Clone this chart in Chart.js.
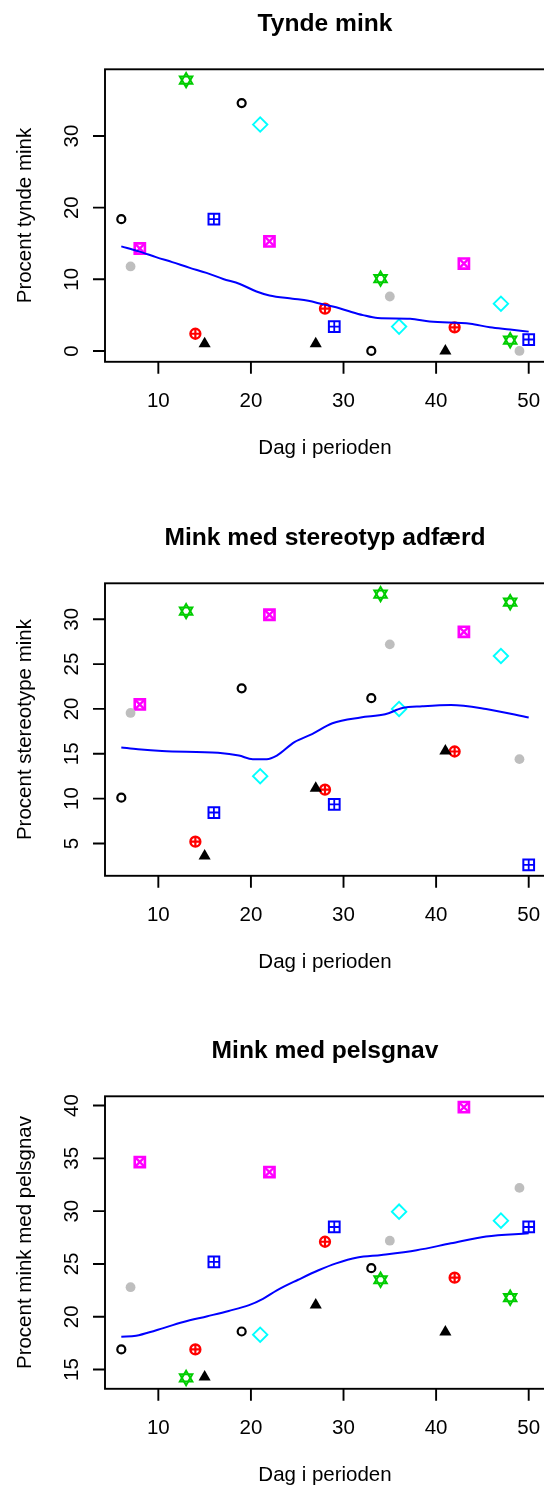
<!DOCTYPE html>
<html>
<head>
<meta charset="utf-8">
<script src="https://cdn.jsdelivr.net/npm/chart.js@4.4.1/dist/chart.umd.min.js"></script>
<style>
  html, body { margin: 0; padding: 0; background: #fff; width: 544px; height: 1485px; overflow: hidden; }
  canvas { position: absolute; left: 0; }
</style>
</head>
<body>
<canvas id="panelThin" width="560" height="514" style="top:0px"></canvas>
<canvas id="panelStereo" width="560" height="514" style="top:514px"></canvas>
<canvas id="panelFur" width="560" height="514" style="top:1027.3px"></canvas>
<script>
// Day of the period for each of the eight groups (three visits per group)
const groupDays = [
  [6, 19, 33],   // black open circle
  [7, 35, 49],   // grey dot
  [15, 27, 41],  // black triangle
  [14, 28, 42],  // red circle-plus
  [13, 34, 48],  // green star
  [8, 22, 43],   // magenta square-cross
  [16, 29, 50],  // blue square-plus
  [21, 36, 47]   // cyan diamond
];

// Percent thin mink per group and visit
const thinPct = [
  [18.4, 34.6, 0],
  [11.8, 7.6, 0],
  [1.0, 1.0, 0],
  [2.4, 5.9, 3.3],
  [37.8, 10.1, 1.5],
  [14.3, 15.3, 12.2],
  [18.4, 3.4, 1.6],
  [31.6, 3.4, 6.6]
];

// Percent mink with stereotypic behaviour
const stereoPct = [
  [10.1, 22.3, 21.2],
  [19.55, 27.2, 14.4],
  [3.6, 11.15, 15.3],
  [5.2, 11.0, 15.25],
  [30.9, 32.8, 31.9],
  [20.5, 30.5, 28.6],
  [8.45, 9.35, 2.6],
  [12.5, 20.0, 25.9]
];

// Percent mink with fur chewing
const furPct = [
  [16.9, 18.6, 24.6],
  [22.8, 27.2, 32.2],
  [14.3, 21.1, 18.55],
  [16.9, 27.1, 23.7],
  [14.2, 23.5, 21.8],
  [34.65, 33.7, 39.85],
  [25.2, 28.5, 28.5],
  [18.3, 29.95, 29.1]
];

// Smoothed trend curves
const thinTrendX = [6, 7.9, 9.75, 11.5, 13.4, 15.2, 17, 18.8, 20.6, 22, 24.5, 26.2, 27.8, 29.2, 30.7, 32.1, 33.7, 37.2, 39.3, 43.7, 45.8, 48, 50];
const thinTrendY = [14.6, 13.9, 13.1, 12.4, 11.6, 10.9, 10.05, 9.35, 8.3, 7.75, 7.3, 7.0, 6.5, 6.1, 5.5, 5.0, 4.6, 4.5, 4.1, 3.8, 3.3, 3.0, 2.7];
const stereoTrendX = [6, 7.8, 10.4, 16.45, 18.7, 20.2, 21.7, 22.8, 24.7, 26.6, 28.8, 31.85, 34.5, 36.35, 38.5, 41.6, 45.4, 50];
const stereoTrendY = [15.7, 15.5, 15.3, 15.1, 14.8, 14.4, 14.4, 14.8, 16.3, 17.2, 18.4, 19.05, 19.4, 20.1, 20.3, 20.45, 20.0, 19.05];
const furTrendX = [6, 7.6, 9.7, 12.7, 15.3, 17.6, 19.8, 21.3, 22.8, 25.1, 27.3, 29.2, 31.5, 34.1, 37.9, 41.6, 45.4, 50];
const furTrendY = [18.1, 18.2, 18.7, 19.5, 20.05, 20.55, 21.1, 21.7, 22.5, 23.5, 24.4, 25.05, 25.6, 25.85, 26.3, 26.95, 27.6, 27.9];

// Tick labels
const dayTicks = [10, 20, 30, 40, 50];
const thinTicks = [0, 10, 20, 30];
const stereoTicks = [5, 10, 15, 20, 25, 30];
const furTicks = [15, 20, 25, 30, 35, 40];

const FONT = '"Liberation Sans", Arial, sans-serif';
const NONE = 'rgba(0,0,0,0)';

// Marker layers per group: each entry is one Chart.js point style drawn at the group's points
const markerLayers = [
  [{ pointStyle: 'circle', radius: 4, borderWidth: 2.2, borderColor: '#000000', backgroundColor: NONE }],
  [{ pointStyle: 'circle', radius: 4.9, borderWidth: 0, borderColor: '#bebebe', backgroundColor: '#bebebe' }],
  [{ pointStyle: 'triangle', radius: 7, borderWidth: 0, borderColor: '#000000', backgroundColor: '#000000' }],
  [{ pointStyle: 'circle', radius: 4.9, borderWidth: 2.5, borderColor: '#ff0000', backgroundColor: NONE },
   { pointStyle: 'cross', radius: 5.2, borderWidth: 2.2, borderColor: '#ff0000', backgroundColor: NONE }],
  [{ pointStyle: 'triangle', radius: 7.2, rotation: 0, borderWidth: 2, borderColor: '#00cd00', backgroundColor: NONE },
   { pointStyle: 'triangle', radius: 7.2, rotation: 180, borderWidth: 2, borderColor: '#00cd00', backgroundColor: NONE }],
  [{ pointStyle: 'rect', radius: 7.2, borderWidth: 2.6, borderColor: '#ff00ff', backgroundColor: NONE },
   { pointStyle: 'crossRot', radius: 7.2, borderWidth: 2.4, borderColor: '#ff00ff', backgroundColor: NONE }],
  [{ pointStyle: 'rect', radius: 7.6, borderWidth: 2, borderColor: '#0000ff', backgroundColor: NONE },
   { pointStyle: 'cross', radius: 5.3, borderWidth: 1.8, borderColor: '#0000ff', backgroundColor: NONE }],
  [{ pointStyle: 'rectRot', radius: 7.2, borderWidth: 1.9, borderColor: '#00ffff', backgroundColor: NONE }]
];

function paddedRange(values) {
  const lo = Math.min(...values), hi = Math.max(...values);
  const pad = (hi - lo) * 0.04;
  return [lo - pad, hi + pad];
}

// Frame, axes and text in the classic base-graphics look
const baseAxesPlugin = {
  id: 'baseAxes',
  afterDraw(chart, args, opts) {
    const { ctx, chartArea: a, scales } = chart;
    const xs = scales.x, ys = scales.y;
    ctx.save();
    ctx.strokeStyle = '#000';
    ctx.fillStyle = '#000';
    ctx.lineWidth = 1.9;
    ctx.strokeRect(a.left, a.top, a.right - a.left, a.bottom - a.top);

    ctx.beginPath();
    opts.xTicks.forEach(v => {
      const px = xs.getPixelForValue(v);
      ctx.moveTo(px, a.bottom);
      ctx.lineTo(px, a.bottom + 12);
    });
    opts.yTicks.forEach(v => {
      const py = ys.getPixelForValue(v);
      ctx.moveTo(a.left - 12, py);
      ctx.lineTo(a.left, py);
    });
    ctx.stroke();

    ctx.font = '20.5px ' + FONT;
    ctx.textAlign = 'center';
    ctx.textBaseline = 'alphabetic';
    opts.xTicks.forEach(v => {
      ctx.fillText(String(v), xs.getPixelForValue(v), a.bottom + 45.5);
    });
    opts.yTicks.forEach(v => {
      ctx.save();
      ctx.translate(a.left - 27, ys.getPixelForValue(v));
      ctx.rotate(-Math.PI / 2);
      ctx.fillText(String(v), 0, 0);
      ctx.restore();
    });

    const cx = (a.left + a.right) / 2;
    ctx.fillText(opts.xTitle, cx, a.bottom + 92.5);
    ctx.save();
    ctx.translate(a.left - 74.5, (a.top + a.bottom) / 2);
    ctx.rotate(-Math.PI / 2);
    ctx.fillText(opts.yTitle, 0, 0);
    ctx.restore();

    ctx.font = 'bold 24.6px ' + FONT;
    ctx.fillText(opts.title, cx, a.top - 38);
    ctx.restore();
  }
};

function makePanel(canvasId, title, yTitle, values, trendX, trendY, yTicks) {
  const canvas = document.getElementById(canvasId);
  const datasets = [];
  // trend line first so it is painted above the markers
  datasets.push({
    type: 'line',
    data: trendX.map((x, i) => ({ x, y: trendY[i] })),
    borderColor: '#0000ff',
    borderWidth: 2,
    pointRadius: 0,
    tension: 0.3,
    cubicInterpolationMode: 'monotone',
    fill: false,
    clip: false
  });
  groupDays.forEach((days, g) => {
    markerLayers[g].forEach(layer => {
      datasets.push({
        type: 'scatter',
        data: days.map((d, i) => ({ x: d, y: values[g][i] })),
        pointStyle: layer.pointStyle,
        pointRadius: layer.radius,
        pointRotation: layer.rotation || 0,
        pointBorderWidth: layer.borderWidth,
        pointBorderColor: layer.borderColor,
        pointBackgroundColor: layer.backgroundColor,
        borderColor: layer.borderColor,
        backgroundColor: layer.backgroundColor,
        showLine: false,
        clip: false
      });
    });
  });

  const [xMin, xMax] = paddedRange(groupDays.flat());
  const [yMin, yMax] = paddedRange(values.flat());

  return new Chart(canvas, {
    type: 'scatter',
    data: { datasets },
    options: {
      responsive: false,
      animation: false,
      events: [],
      layout: { padding: { left: 105, top: 69.3, right: canvas.width - 545, bottom: canvas.height - 361.8 } },
      scales: {
        x: { type: 'linear', display: false, min: xMin, max: xMax },
        y: { type: 'linear', display: false, min: yMin, max: yMax }
      },
      plugins: {
        legend: { display: false },
        tooltip: { enabled: false },
        baseAxes: { title, yTitle, xTitle: 'Dag i perioden', xTicks: dayTicks, yTicks }
      }
    },
    plugins: [baseAxesPlugin]
  });
}

makePanel('panelThin', 'Tynde mink', 'Procent tynde mink', thinPct, thinTrendX, thinTrendY, thinTicks);
makePanel('panelStereo', 'Mink med stereotyp adfærd', 'Procent stereotype mink', stereoPct, stereoTrendX, stereoTrendY, stereoTicks);
makePanel('panelFur', 'Mink med pelsgnav', 'Procent mink med pelsgnav', furPct, furTrendX, furTrendY, furTicks);
</script>
</body>
</html>
